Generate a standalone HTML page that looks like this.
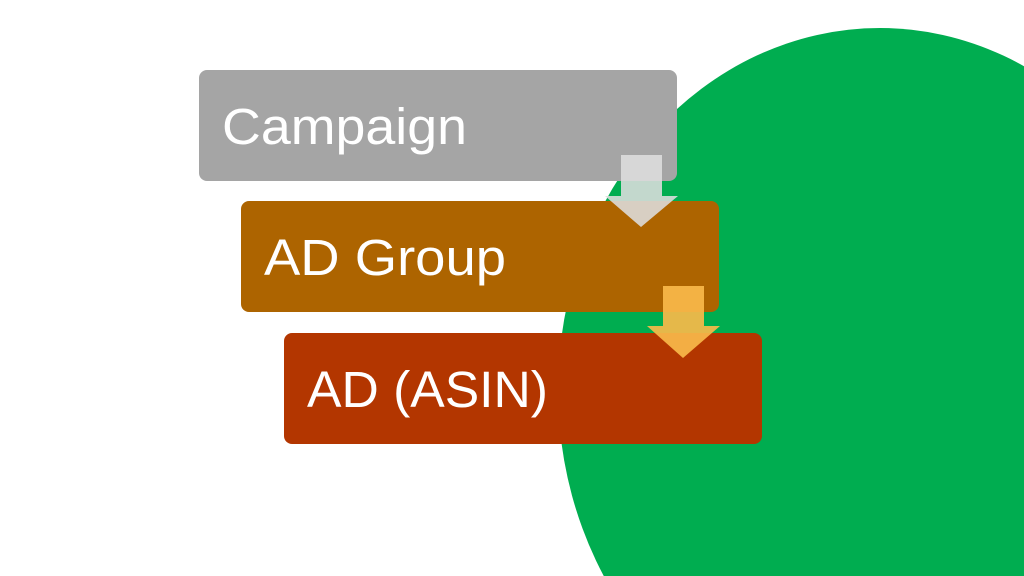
<!DOCTYPE html>
<html><head><style>html,body{margin:0;padding:0;background:#fff;overflow:hidden;width:1024px;height:576px}svg{display:block}</style></head>
<body>
<svg width="1024" height="576" viewBox="0 0 1024 576" xmlns="http://www.w3.org/2000/svg">
<rect width="1024" height="576" fill="#fff"/>
<ellipse cx="880" cy="390" rx="322" ry="362" fill="#00ad50"/>
<rect x="199" y="70" width="478" height="111" rx="8" fill="#a5a5a5"/>
<rect x="241" y="201" width="478" height="111" rx="8" fill="#ad6400"/>
<rect x="284" y="333" width="478" height="111" rx="8" fill="#b33600"/>
<polygon points="621,155 662,155 662,196 678,196 641,227 605,196 621,196" fill="#dedede" fill-opacity="0.88"/>
<polygon points="663,286 704,286 704,326 720,326 683,358 647,326 663,326" fill="#f8b84a" fill-opacity="0.92"/>
<g font-family="Liberation Sans, sans-serif" font-size="51" fill="#fff">
<text x="222" y="144" textLength="245" lengthAdjust="spacingAndGlyphs">Campaign</text>
<text x="264" y="275" textLength="242" lengthAdjust="spacingAndGlyphs">AD Group</text>
<text x="307" y="407" textLength="241" lengthAdjust="spacingAndGlyphs">AD (ASIN)</text>
</g>
</svg>
</body></html>
